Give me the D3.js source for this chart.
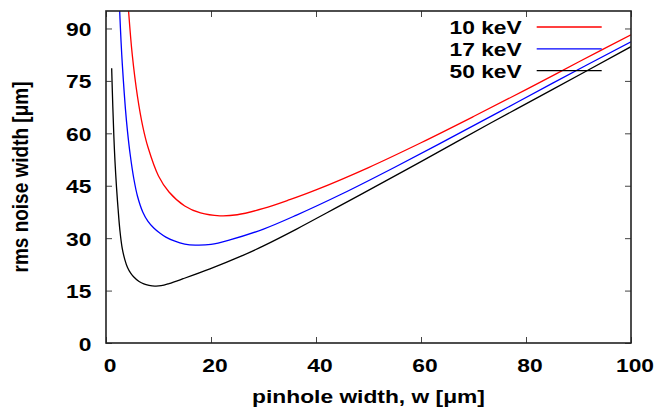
<!DOCTYPE html>
<html><head><meta charset="utf-8">
<script src="https://cdn.jsdelivr.net/npm/d3@7"></script>
<style>
body{margin:0;background:#fff;}
svg text{font-family:"Liberation Sans",Arial,Helvetica,sans-serif;font-weight:bold;font-size:19px;fill:#000;}
</style></head>
<body><svg id="c" width="657" height="410"></svg>
<script>
// ---- data ----
const xTicks = [0, 20, 40, 60, 80, 100];
const yTicks = [0, 15, 30, 45, 60, 75, 90];
const seriesNames = ["10 keV", "17 keV", "50 keV"];
const seriesColors = ["#ff0000", "#0000ff", "#000000"];

const w10 = [4.2, 5, 6, 7, 8, 10, 12, 15, 18, 21.7, 25, 30, 35, 40, 50, 60, 70, 80, 90, 100];
const v10 = [97, 82.5, 70.5, 62, 56, 47.8, 43.2, 39.2, 37.2, 36.4, 36.7, 38.5, 41.0, 43.8, 50.2, 57.3, 64.8, 72.5, 80.4, 88.2];

const w17 = [2.55, 2.75, 3.0, 3.3, 3.7, 4.1, 4.6, 5.3, 6.0, 7.0, 8.0, 9.1, 10.3, 11.4, 13, 15, 17, 20, 23.6, 30, 36.3, 45, 55, 65, 75, 85, 100];
const v17 = [97, 90, 82.5, 75.3, 67, 60.5, 54, 47, 42, 37.5, 34.8, 32.9, 31.4, 30.3, 29.2, 28.3, 28.0, 28.2, 29.5, 32.6, 36.6, 42.7, 50.3, 58.2, 66.2, 74.3, 86.2];

const w50 = [1.08, 1.3, 1.5, 1.7, 2.0, 2.3, 2.65, 3.1, 3.6, 4.1, 4.7, 5.3, 6.3, 7.2, 8.2, 9.3, 10.5, 12, 14.7, 19.8, 25.5, 30, 36.3, 42, 48.4, 60, 73.1, 85, 100];
const v50 = [78.6, 67.5, 59, 52.3, 44.6, 38.4, 32.2, 27.0, 23.8, 21.6, 20.0, 18.9, 17.6, 16.9, 16.5, 16.3, 16.4, 17.0, 18.4, 21.2, 24.7, 27.8, 32.6, 37.2, 42.4, 51.9, 62.8, 72.5, 84.8];

const seriesW = [w10, w17, w50];
const seriesV = [v10, v17, v50];

// ---- layout ----
const svg = d3.select("#c");
const L = 106, R = 631, T = 11, B = 343;
const SX = 1.2; // horizontal text stretch
const x = d3.scaleLinear().domain([0, 100]).range([L, R]);
const y = d3.scaleLinear().domain([0, 95]).range([B, T]);

svg.append("defs").append("clipPath").attr("id", "clip")
  .append("rect").attr("x", L).attr("y", T).attr("width", R - L).attr("height", B - T);

// curves
const line = d3.line().x(d => x(d[0])).y(d => y(d[1])).curve(d3.curveCatmullRom.alpha(0.5));
seriesW.forEach((ws, i) => {
  const pts = ws.map((w, j) => [w, seriesV[i][j]]);
  svg.append("path").datum(pts).attr("d", line)
    .attr("fill", "none").attr("stroke", seriesColors[i]).attr("stroke-width", 1.3)
    .attr("clip-path", "url(#clip)");
});

// axes (inward ticks, mirrored)
function styleAxis(g) {
  g.select(".domain").remove();
  g.selectAll(".tick line").attr("stroke", "#444").attr("stroke-width", 1);
}
const gl = svg.append("g").attr("transform", `translate(${L},0)`)
  .call(d3.axisLeft(y).tickValues(yTicks).tickSize(-6).tickFormat(d3.format("d")));
styleAxis(gl);
gl.selectAll(".tick text")
  .attr("font-size", null).attr("font-family", null)
  .attr("text-anchor", "end")
  .attr("transform", `scale(${SX},1)`)
  .attr("x", (91.3 - L) / SX).attr("dy", "0.37em");

const gb = svg.append("g").attr("transform", `translate(0,${B})`)
  .call(d3.axisBottom(x).tickValues(xTicks).tickSize(-6).tickFormat(d3.format("d")));
styleAxis(gb);
gb.selectAll(".tick text")
  .attr("font-size", null).attr("font-family", null)
  .attr("text-anchor", "middle")
  .attr("transform", `scale(${SX},1)`)
  .attr("x", 3.5 / SX).attr("y", 372 - B).attr("dy", 0);

const gt = svg.append("g").attr("transform", `translate(0,${T})`)
  .call(d3.axisTop(x).tickValues(xTicks).tickSize(-6).tickFormat(""));
styleAxis(gt);
const gr = svg.append("g").attr("transform", `translate(${R},0)`)
  .call(d3.axisRight(y).tickValues(yTicks).tickSize(-6).tickFormat(""));
styleAxis(gr);

// frame
svg.append("rect").attr("x", L).attr("y", T).attr("width", R - L).attr("height", B - T)
  .attr("fill", "none").attr("stroke", "#222").attr("stroke-width", 1.6);

// axis titles
svg.append("text").attr("transform", `translate(${(L + R) / 2},403) scale(${SX},1)`)
  .attr("text-anchor", "middle").text("pinhole width, w [μm]");
svg.append("text").attr("transform", `translate(28,${(T + B) / 2}) scale(${SX},1) rotate(-90)`)
  .attr("text-anchor", "middle").text("rms noise width [μm]");

// legend
seriesNames.forEach((name, i) => {
  const cy = 27 + i * 21.8;
  svg.append("text").attr("transform", `translate(521.7,${cy + 7}) scale(${SX},1)`)
    .attr("text-anchor", "end").text(name);
  svg.append("line").attr("x1", 536.7).attr("x2", 601.7).attr("y1", cy).attr("y2", cy)
    .attr("stroke", seriesColors[i]).attr("stroke-width", 1.3);
});
</script></body></html>
